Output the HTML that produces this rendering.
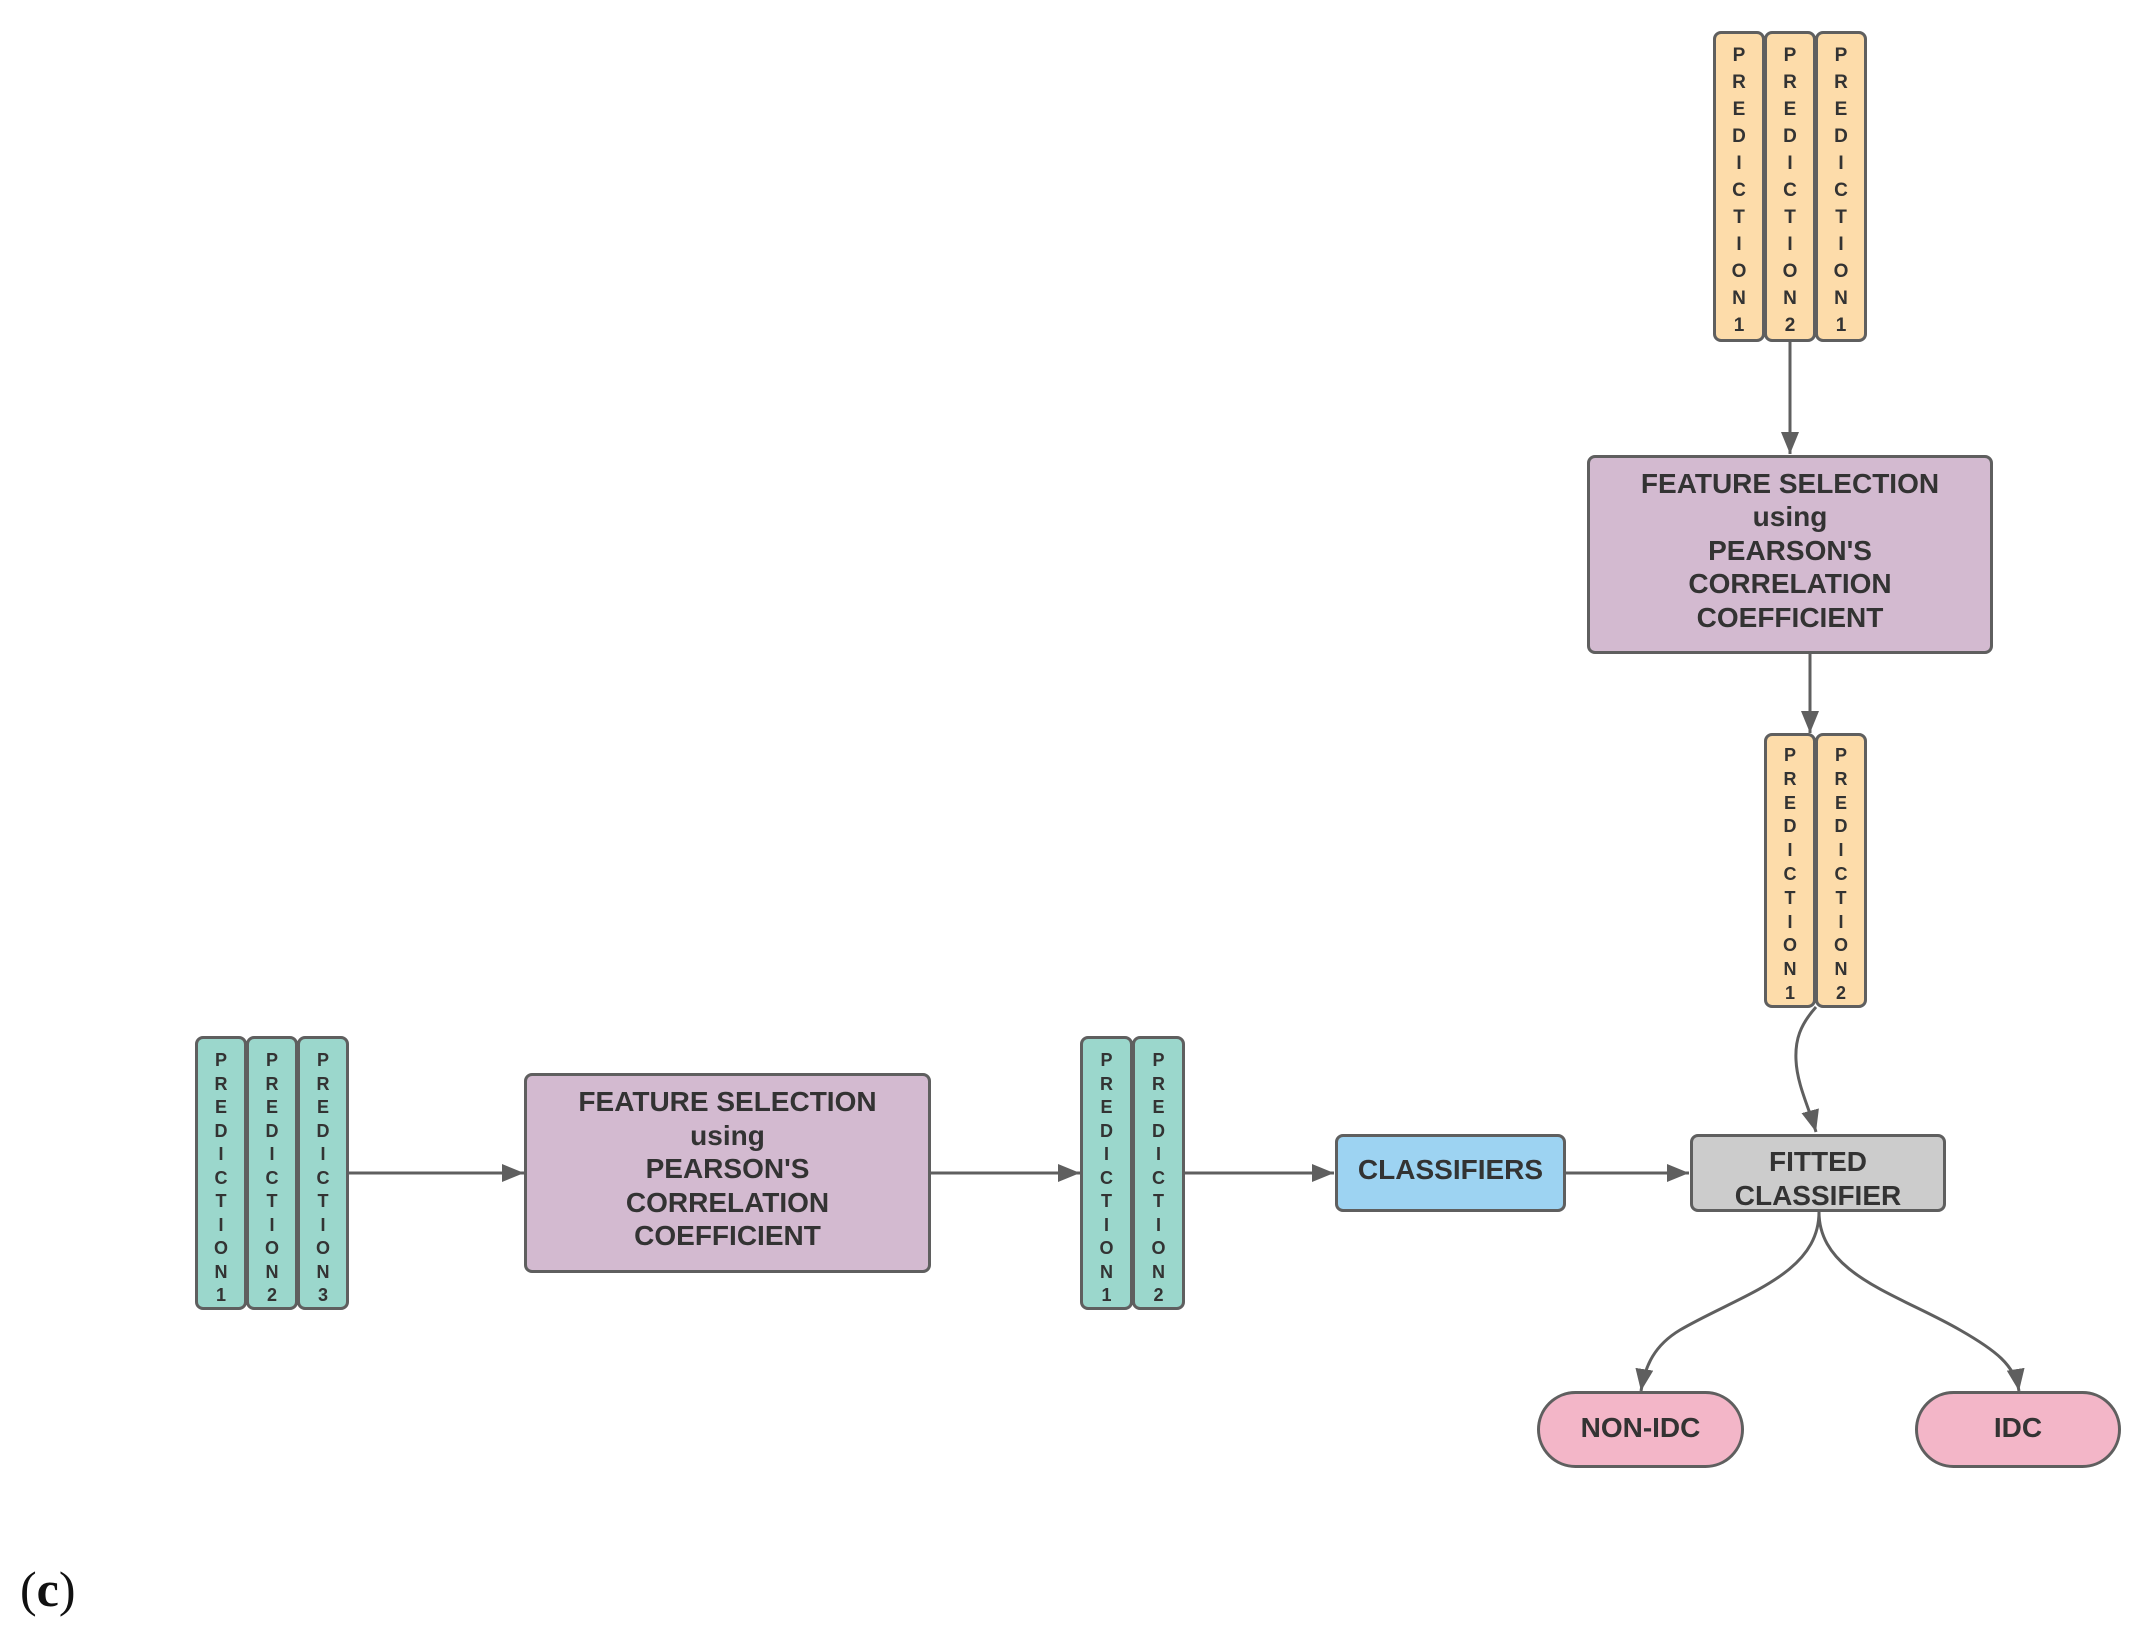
<!DOCTYPE html>
<html><head><meta charset="utf-8"><style>
html,body{margin:0;padding:0;background:#fff;}
body{width:2148px;height:1641px;position:relative;overflow:hidden;font-family:"Liberation Sans",Arial,sans-serif;color:#333;}
.b{position:absolute;box-sizing:border-box;border:3.5px solid #5f5f5f;border-radius:8px;text-align:center;font-weight:bold;}
.col{position:absolute;box-sizing:border-box;border:3.5px solid #5f5f5f;border-radius:8px;text-align:center;font-weight:bold;}
.or{background:#fddcaa;}
.te{background:#9bd7cc;}
.pu{background:#d3bad0;font-size:28px;line-height:33.5px;display:flex;align-items:center;justify-content:center;padding-bottom:8px;}
svg{position:absolute;left:0;top:0;}
</style></head><body>
<svg width="2148" height="1641" viewBox="0 0 2148 1641">
<defs>
<marker id="m" viewBox="0 0 22 18" refX="22" refY="9" markerWidth="22" markerHeight="18" orient="auto" markerUnits="userSpaceOnUse"><path d="M0,0 L22,9 L0,18 z" fill="#5f5f5f"/></marker></defs>
<g stroke="#5f5f5f" stroke-width="3" fill="none">
<path d="M1790 262 L1790 454" marker-end="url(#m)"/>
<path d="M1810 653 L1810 733" marker-end="url(#m)"/>
<path d="M1816 1007 C1800 1025 1795 1040 1796 1060 C1797 1085 1810 1110 1816 1132" marker-end="url(#m)"/>
<path d="M349 1173 L524 1173" marker-end="url(#m)"/>
<path d="M931 1173 L1080 1173" marker-end="url(#m)"/>
<path d="M1184 1173 L1334 1173" marker-end="url(#m)"/>
<path d="M1565 1173 L1689 1173" marker-end="url(#m)"/>
<path d="M1819 1212 C1819 1275 1740 1295 1680 1330 C1655 1345 1645 1365 1641 1391" marker-end="url(#m)"/>
<path d="M1819 1212 C1819 1275 1900 1295 1960 1330 C1995 1350 2015 1365 2019 1391" marker-end="url(#m)"/>
</g>
</svg>

<div class="col or" style="left:1713px;top:31px;width:52px;height:311px;font-size:19px;line-height:27px;padding-top:8px;">P<br>R<br>E<br>D<br>I<br>C<br>T<br>I<br>O<br>N<br>1</div>
<div class="col or" style="left:1764px;top:31px;width:52px;height:311px;font-size:19px;line-height:27px;padding-top:8px;">P<br>R<br>E<br>D<br>I<br>C<br>T<br>I<br>O<br>N<br>2</div>
<div class="col or" style="left:1815px;top:31px;width:52px;height:311px;font-size:19px;line-height:27px;padding-top:8px;">P<br>R<br>E<br>D<br>I<br>C<br>T<br>I<br>O<br>N<br>1</div>

<div class="b pu" style="left:1587px;top:455px;width:406px;height:199px;">FEATURE SELECTION<br>using<br>PEARSON'S<br>CORRELATION<br>COEFFICIENT</div>

<div class="col or" style="left:1764px;top:733px;width:52px;height:275px;font-size:18px;line-height:23.8px;padding-top:8px;">P<br>R<br>E<br>D<br>I<br>C<br>T<br>I<br>O<br>N<br>1</div>
<div class="col or" style="left:1815px;top:733px;width:52px;height:275px;font-size:18px;line-height:23.8px;padding-top:8px;">P<br>R<br>E<br>D<br>I<br>C<br>T<br>I<br>O<br>N<br>2</div>

<div class="col te" style="left:195px;top:1036px;width:52px;height:274px;font-size:18px;line-height:23.5px;padding-top:10px;">P<br>R<br>E<br>D<br>I<br>C<br>T<br>I<br>O<br>N<br>1</div>
<div class="col te" style="left:246px;top:1036px;width:52px;height:274px;font-size:18px;line-height:23.5px;padding-top:10px;">P<br>R<br>E<br>D<br>I<br>C<br>T<br>I<br>O<br>N<br>2</div>
<div class="col te" style="left:297px;top:1036px;width:52px;height:274px;font-size:18px;line-height:23.5px;padding-top:10px;">P<br>R<br>E<br>D<br>I<br>C<br>T<br>I<br>O<br>N<br>3</div>

<div class="b pu" style="left:524px;top:1073px;width:407px;height:200px;">FEATURE SELECTION<br>using<br>PEARSON'S<br>CORRELATION<br>COEFFICIENT</div>

<div class="col te" style="left:1080px;top:1036px;width:53px;height:274px;font-size:18px;line-height:23.5px;padding-top:10px;">P<br>R<br>E<br>D<br>I<br>C<br>T<br>I<br>O<br>N<br>1</div>
<div class="col te" style="left:1132px;top:1036px;width:53px;height:274px;font-size:18px;line-height:23.5px;padding-top:10px;">P<br>R<br>E<br>D<br>I<br>C<br>T<br>I<br>O<br>N<br>2</div>

<div class="b" style="left:1335px;top:1134px;width:231px;height:78px;background:#9dd3f2;font-size:28px;line-height:66px;">CLASSIFIERS</div>
<div class="b" style="left:1690px;top:1134px;width:256px;height:78px;background:#cccccc;font-size:28px;line-height:34px;padding-top:8px;overflow:visible;">FITTED<br>CLASSIFIER</div>

<div class="b" style="left:1537px;top:1391px;width:207px;height:77px;border-radius:40px;background:#f3b6c8;font-size:28px;line-height:68px;">NON-IDC</div>
<div class="b" style="left:1915px;top:1391px;width:206px;height:77px;border-radius:40px;background:#f3b6c8;font-size:28px;line-height:68px;">IDC</div>

<div style="position:absolute;left:20px;top:1560px;font-family:'Liberation Serif',serif;font-size:50px;color:#111;">(<b>c</b>)</div>
</body></html>
